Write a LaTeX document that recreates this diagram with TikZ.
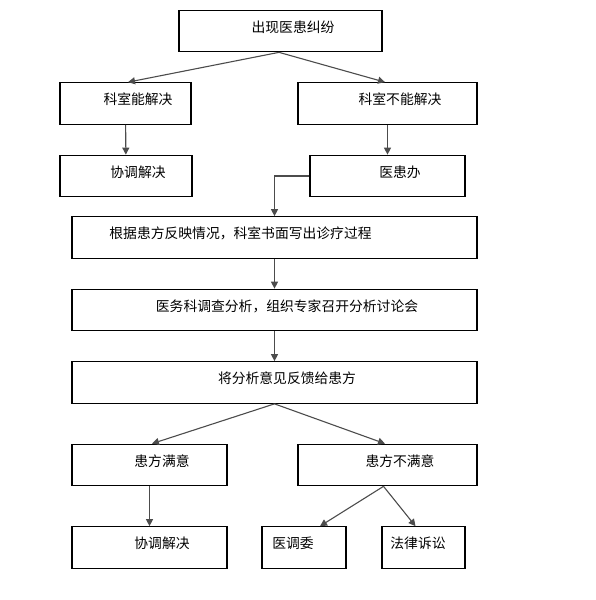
\documentclass[tikz,border=0pt]{standalone}
\usepackage{fontspec}
\newfontfamily\cjk{Noto Sans CJK SC}
\usetikzlibrary{arrows.meta}

\begin{document}
\begin{tikzpicture}[
    x=1pt, y=-1pt,
    box/.style={rectangle, draw, line width=1.2pt, minimum width=#1, minimum height=41.5pt, inner sep=0pt},
    txt/.style 2 args={label={[shift={(#1,-4)}, inner sep=0pt, font=\cjk\fontsize{13.8}{16}\selectfont]center:#2}},
    arrow/.style={line width=1.1pt, draw=black!70, -{Triangle[length=7pt,width=7pt]}}
]
\useasboundingbox (0,0) rectangle (596,600);

\node (start) [box=203pt, txt={12.5}{出现医患纠纷}] at (280.5,31) {};
\node (ok) [box=131pt, txt={12.5}{科室能解决}] at (125.5,103.5) {};
\node (notok) [box=179pt, txt={12.5}{科室不能解决}] at (387.5,103.5) {};
\node (solve) [box=132pt, txt={12}{协调解决}] at (126,176) {};
\node (office) [box=155pt, txt={12.5}{医患办}] at (387.5,176) {};
\node (report) [box=405pt, txt={-34}{根据患方反映情况，科室书面写出诊疗过程}] at (274.5,237.5) {};
\node (meeting) [box=405pt, txt={12.5}{医务科调查分析，组织专家召开分析讨论会}] at (274.5,310) {};
\node (feedback) [box=405pt, txt={12.5}{将分析意见反馈给患方}] at (274.5,382.5) {};
\node (happy) [box=155pt, txt={12.5}{患方满意}] at (149.5,465) {};
\node (unhappy) [box=179pt, txt={12.5}{患方不满意}] at (387.5,465) {};
\node (settle) [box=155pt, txt={12.5}{协调解决}] at (149.5,547.5) {};
\node (mediate) [box=84pt, txt={-11}{医调委}] at (304,547.5) {};
\node (lawsuit) [box=83pt, txt={-5.5}{法律诉讼}] at (423.5,547.5) {};

% Arrows
\draw[arrow] ([xshift=-1.5pt]start.south) -- ([xshift=2.5pt]ok.north);
\draw[arrow] ([xshift=-1.5pt]start.south) -- ([xshift=-2.5pt]notok.north);
\draw[arrow] (ok) -- (solve);
\draw[arrow] (notok) -- (notok |- office.north);
\draw[arrow] (office.west) -| (report.north);
\draw[arrow] (report) -- (meeting);
\draw[arrow] (meeting) -- (feedback);
\draw[arrow] (feedback.south) -- ([xshift=2.5pt]happy.north);
\draw[arrow] (feedback.south) -- ([xshift=-2.5pt]unhappy.north);
\draw[arrow] (happy) -- (settle);
\draw[arrow] ([xshift=-4pt]unhappy.south) -- ([xshift=16pt]mediate.north);
\draw[arrow] ([xshift=-4pt]unhappy.south) -- ([xshift=-8pt]lawsuit.north);

\end{tikzpicture}
\end{document}
